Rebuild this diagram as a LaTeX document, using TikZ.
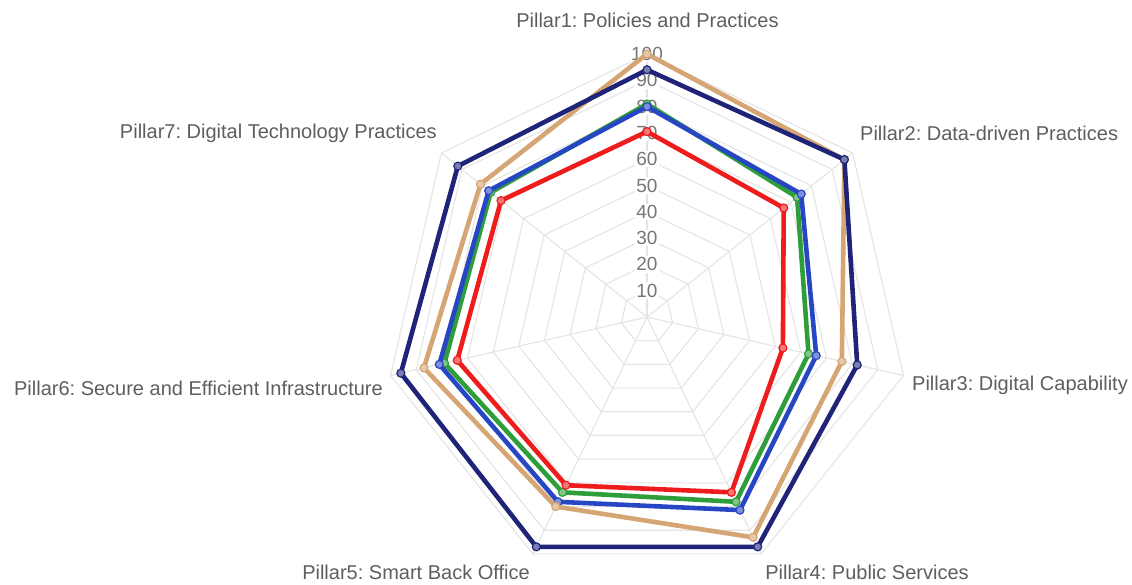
\documentclass[tikz,border=0pt]{standalone}
\usepackage{fontspec}
\setmainfont{Liberation Sans}
\frenchspacing
\definecolor{gridgray}{HTML}{E4E4E4}
\definecolor{labelgray}{HTML}{5E5E5E}
\definecolor{tickgray}{HTML}{767676}
\definecolor{navyline}{HTML}{1F2479}
\definecolor{tanline}{HTML}{D6A574}
\definecolor{blueline}{HTML}{2746C4}
\definecolor{greenline}{HTML}{2E9E3A}
\definecolor{redline}{HTML}{EE1C1C}

\begin{document}
\begin{tikzpicture}[x=1pt, y=1pt,
    gridline/.style={draw=gridgray, line width=1.1pt},
    series/.style={line width=4.6pt, line join=round},
    dot/.style={line width=1.2pt},
    pillar/.style={text=labelgray, font=\fontsize{20}{22}\selectfont, inner sep=0pt},
    tick/.style={text=tickgray, fill=white, font=\fontsize{19}{21}\selectfont, inner sep=1.5pt}]
    \useasboundingbox (-647,-268) rectangle (485,317);
    \coordinate (c) at (0,0);
    % Draw the rings and the spokes
    \foreach \i in {1,...,10} {
        \draw[gridline] (90:26.3*\i) \foreach \k in {1,...,6} { -- (90-360/7*\k:26.3*\i) } -- cycle;
    }
    \foreach \k in {0,...,6} {
        \draw[gridline] (c) -- (90-360/7*\k:263);
    }
    % Tick labels
    \foreach \v in {10,20,...,100} {
        \node[tick] (t\v) at (90:2.63*\v) {\v};
    }
    % Pillar labels
    \foreach \n/\x/\y/\anc/\txt in {
        1/0.5/297/center/Pillar1: Policies and Practices,
        2/213/184/west/Pillar2: Data-driven Practices,
        3/265/-68/west/Pillar3: Digital Capability,
        4/220/-255/center/Pillar4: Public Services,
        5/-231/-255/center/Pillar5: Smart Back Office,
        6/-264/-71/east/Pillar6: Secure and Efficient Infrastructure,
        7/-210/184/east/Pillar7: Digital Technology Practices} {
        \node[pillar, anchor=\anc] (lab\n) at (\x,\y) {\txt};
    }
    % Data series
    \foreach \s/\vals in {
        greenline/{81,73,63,78,74,79,76},
        blueline/{80,75,66,81.5,78,81,77},
        redline/{70.5,66.5,53,74,71,74,71},
        tanline/{100,96,76,93,80,87,81},
        navyline/{94,96,82,97,97,96,92}} {
        \foreach \v [count=\k from 0] in \vals {
            \coordinate (\s\k) at (90-360/7*\k:2.63*\v);
        }
        \draw[series, draw=\s] (\s0) -- (\s1) -- (\s2) -- (\s3) -- (\s4) -- (\s5) -- (\s6) -- cycle;
        \foreach \k in {0,...,6} {
            \draw[dot, draw=\s, fill=\s!60] (\s\k) circle (4);
        }
    }
\end{tikzpicture}
\end{document}
